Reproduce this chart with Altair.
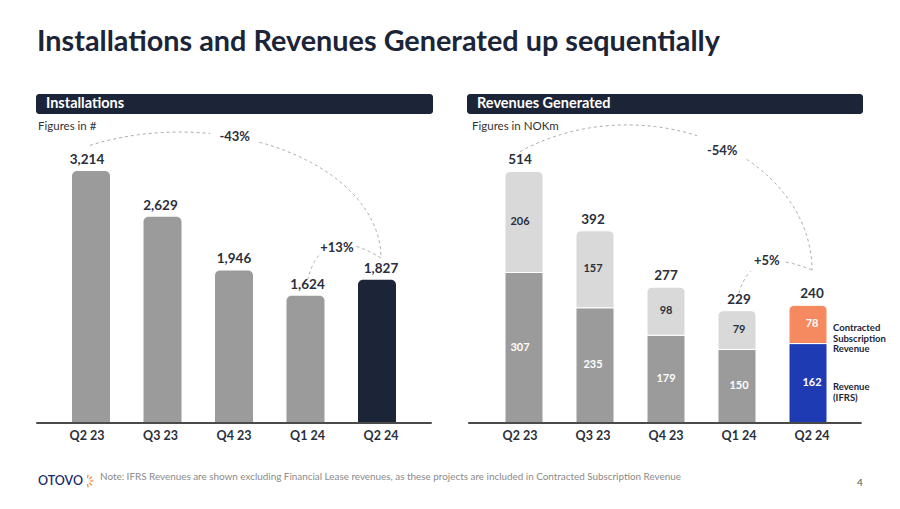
import math
import altair as alt
import numpy as np
import pandas as pd

FONT = "Lato"
DARK = "#1c2438"
TEXT = "#2a2f3b"

quarters = ["Q2 23", "Q3 23", "Q4 23", "Q1 24", "Q2 24"]
installations = [3214, 2629, 1946, 1624, 1827]
revenue_ifrs = [307, 235, 179, 150, 162]
revenue_contracted = [206, 157, 98, 79, 78]
revenue_total = [514, 392, 277, 229, 240]
installation_colors = ["#9b9b9b", "#9b9b9b", "#9b9b9b", "#9b9b9b", DARK]
ifrs_colors = ["#9b9b9b", "#9b9b9b", "#9b9b9b", "#9b9b9b", "#1f3bb4"]
contracted_colors = ["#d9d9d9", "#d9d9d9", "#d9d9d9", "#d9d9d9", "#f58a60"]
contracted_label_colors = [TEXT, TEXT, TEXT, TEXT, "white"]

idx = list(range(len(quarters)))

# scales: index on x, values on y (pixel ranges inside the 884x493 canvas)
XL = alt.Scale(domain=[-0.5, 4.5], range=[42.25, 409.75], nice=False, zero=False)
YL = alt.Scale(domain=[0, 3214], range=[415, 163], nice=False, zero=False)
XR = alt.Scale(domain=[-0.5, 4.5], range=[475.5, 840.5], nice=False, zero=False)
YR = alt.Scale(domain=[0, 514], range=[415, 163], nice=False, zero=False)

one = pd.DataFrame({"a": [0]})

left_df = pd.DataFrame({
    "i": idx, "q": quarters, "v": installations, "base": 0,
    "c": installation_colors, "lab": [f"{v:,}" for v in installations],
})
rb_df = pd.DataFrame({
    "i": idx, "q": quarters, "y0": 0, "y1": revenue_ifrs, "c": ifrs_colors,
    "tc": ["white"] * 5,
    "mid": [v / 2 for v in revenue_ifrs], "lab": [str(v) for v in revenue_ifrs],
})
rt_df = pd.DataFrame({
    "i": idx, "y0": revenue_ifrs,
    "y1": [a + b for a, b in zip(revenue_ifrs, revenue_contracted)],
    "c": contracted_colors, "tc": contracted_label_colors,
    "mid": [a + b / 2 for a, b in zip(revenue_ifrs, revenue_contracted)],
    "lab": [str(v) for v in revenue_contracted],
})
rtot_df = pd.DataFrame({"i": idx, "v": revenue_total, "lab": [str(v) for v in revenue_total]})


def ellipse_arc(cx, cy, a, b, t0, t1, gap):
    rows = []
    seg = 0
    prev_in = False
    for k, t in enumerate(np.linspace(t0, t1, 160)):
        x = cx + a * math.cos(math.radians(t))
        y = cy + b * math.sin(math.radians(t))
        inside = gap[0] <= x <= gap[1]
        if inside:
            if not prev_in:
                seg += 1
            prev_in = True
            continue
        prev_in = False
        rows.append({"x": x, "y": y, "seg": seg, "k": k})
    return rows


def bezier_arc(p0, p1, p2, gap):
    rows = []
    seg = 0
    prev_in = False
    for k, t in enumerate(np.linspace(0, 1, 80)):
        x = (1 - t) ** 2 * p0[0] + 2 * t * (1 - t) * p1[0] + t ** 2 * p2[0]
        y = (1 - t) ** 2 * p0[1] + 2 * t * (1 - t) * p1[1] + t ** 2 * p2[1]
        inside = gap[0] <= x <= gap[1]
        if inside:
            if not prev_in:
                seg += 1
            prev_in = True
            continue
        prev_in = False
        rows.append({"x": x, "y": y, "seg": seg, "k": k})
    return rows


# connectors (index units on x, value units on y)
arc_left = pd.DataFrame(
    [dict(r, arc="big") for r in ellipse_arc(1.265, 2104, 2.735, 1607, 116.6, 0, (1.68, 2.34))]
    + [dict(r, arc="small", seg=r["seg"] + 10) for r in bezier_arc((3.0, 1824), (3.2, 2563), (4.0, 2104), (3.17, 3.66))]
)
arc_right = pd.DataFrame(
    [dict(r, arc="big") for r in ellipse_arc(1.466, 312, 2.534, 296, 125.3, 0, (2.45, 3.1))]
    + [dict(r, arc="small", seg=r["seg"] + 10) for r in bezier_arc((3.0, 265), (3.18, 363), (4.0, 312), (3.16, 3.64))]
)
chg_left = pd.DataFrame({"x": [2.01, 3.40], "y": [3647, 2232], "t": ["-43%", "+13%"]})
chg_right = pd.DataFrame({"x": [2.77, 3.38], "y": [555, 330], "t": ["-54%", "+5%"]})

layers = []

# title
layers.append(alt.Chart(one).mark_text(
    text="Installations and Revenues Generated up sequentially", font=FONT, fontSize=28.8,
    fontWeight="bold", color=DARK, align="left", baseline="alphabetic",
).encode(x=alt.value(29), y=alt.value(43)))

# panel headers
for x0, x1, label in [(28, 425, "Installations"), (459, 855, "Revenues Generated")]:
    layers.append(alt.Chart(one).mark_rect(color=DARK, cornerRadius=3).encode(
        x=alt.value(x0), x2=alt.value(x1), y=alt.value(86), y2=alt.value(106)))
    layers.append(alt.Chart(one).mark_text(
        text=label, font=FONT, fontSize=14.5, fontWeight="bold", color="white",
        align="left", baseline="middle").encode(x=alt.value(x0 + 10), y=alt.value(96)))

for x0, label in [(30, "Figures in #"), (464, "Figures in NOKm")]:
    layers.append(alt.Chart(one).mark_text(
        text=label, font=FONT, fontSize=11.5, color="#333333", align="left",
        baseline="middle").encode(x=alt.value(x0), y=alt.value(119)))

# ---- left panel ----
X_L = alt.X("i:Q", scale=XL, axis=None)
layers.append(alt.Chart(left_df).mark_bar(size=38, cornerRadiusTopLeft=5, cornerRadiusTopRight=5).encode(
    x=X_L, y=alt.Y("v:Q", scale=YL, axis=None), y2="base:Q",
    color=alt.Color("c:N", scale=None)))
layers.append(alt.Chart(left_df).mark_text(
    font=FONT, fontSize=13.5, fontWeight="bold", color=TEXT, baseline="middle", dy=-11).encode(
    x=X_L, y=alt.Y("v:Q", scale=YL, axis=None), text="lab:N"))
layers.append(alt.Chart(left_df).mark_text(
    font=FONT, fontSize=12.5, fontWeight="bold", color=TEXT, baseline="middle", dy=13).encode(
    x=X_L, y=alt.Y("base:Q", scale=YL, axis=None), text="q:N"))
layers.append(alt.Chart(one).mark_rule(color="#4a4a4a", strokeWidth=2).encode(
    x=alt.X("datum_x:Q", scale=XL, axis=None), x2="datum_x2:Q",
    y=alt.Y("datum_y:Q", scale=YL, axis=None)).transform_calculate(
    datum_x="-0.69", datum_x2="4.69", datum_y="0"))
layers.append(alt.Chart(arc_left).mark_line(strokeDash=[3, 3], color="#aaaaaa", strokeWidth=1).encode(
    x=alt.X("x:Q", scale=XL, axis=None), y=alt.Y("y:Q", scale=YL, axis=None),
    detail="seg:N", order="k:Q"))
layers.append(alt.Chart(chg_left).mark_text(
    font=FONT, fontSize=13, fontWeight="bold", color=TEXT, baseline="middle").encode(
    x=alt.X("x:Q", scale=XL, axis=None), y=alt.Y("y:Q", scale=YL, axis=None), text="t:N"))

# ---- right panel ----
X_R = alt.X("i:Q", scale=XR, axis=None)
layers.append(alt.Chart(rb_df).mark_bar(size=38, stroke="white", strokeWidth=1).encode(
    x=X_R, y=alt.Y("y1:Q", scale=YR, axis=None), y2="y0:Q",
    color=alt.Color("c:N", scale=None)))
layers.append(alt.Chart(rt_df).mark_bar(size=38, stroke="white", strokeWidth=1,
                                        cornerRadiusTopLeft=5, cornerRadiusTopRight=5).encode(
    x=X_R, y=alt.Y("y1:Q", scale=YR, axis=None), y2="y0:Q",
    color=alt.Color("c:N", scale=None)))
for df in (rb_df, rt_df):
    layers.append(alt.Chart(df).mark_text(
        font=FONT, fontSize=11, fontWeight="bold", baseline="middle").encode(
        x=X_R, y=alt.Y("mid:Q", scale=YR, axis=None), text="lab:N",
        color=alt.Color("tc:N", scale=None)))
layers.append(alt.Chart(rtot_df).mark_text(
    font=FONT, fontSize=13.5, fontWeight="bold", color=TEXT, baseline="middle", dy=-11).encode(
    x=X_R, y=alt.Y("v:Q", scale=YR, axis=None), text="lab:N"))
layers.append(alt.Chart(rb_df).mark_text(
    font=FONT, fontSize=12.5, fontWeight="bold", color=TEXT, baseline="middle", dy=13).encode(
    x=X_R, y=alt.Y("y0:Q", scale=YR, axis=None), text="q:N"))
layers.append(alt.Chart(one).mark_rule(color="#4a4a4a", strokeWidth=2).encode(
    x=alt.X("datum_x:Q", scale=XR, axis=None), x2="datum_x2:Q",
    y=alt.Y("datum_y:Q", scale=YR, axis=None)).transform_calculate(
    datum_x="-0.71", datum_x2="4.68", datum_y="0"))
layers.append(alt.Chart(arc_right).mark_line(strokeDash=[3, 3], color="#aaaaaa", strokeWidth=1).encode(
    x=alt.X("x:Q", scale=XR, axis=None), y=alt.Y("y:Q", scale=YR, axis=None),
    detail="seg:N", order="k:Q"))
layers.append(alt.Chart(chg_right).mark_text(
    font=FONT, fontSize=13, fontWeight="bold", color=TEXT, baseline="middle").encode(
    x=alt.X("x:Q", scale=XR, axis=None), y=alt.Y("y:Q", scale=YR, axis=None), text="t:N"))

# legend-like labels beside the last stacked bar
legend_df = pd.DataFrame({
    "i": [4, 4],
    "mid": [rt_df["mid"].iloc[4], rb_df["mid"].iloc[4]],
    "t": ["Contracted\nSubscription\nRevenue", "Revenue\n(IFRS)"],
})
layers.append(alt.Chart(legend_df).mark_text(
    font=FONT, fontSize=9.5, fontWeight="bold", color=DARK, align="left", baseline="middle",
    lineBreak="\n", lineHeight=10.5, dx=21, dy=4).encode(
    x=X_R, y=alt.Y("mid:Q", scale=YR, axis=None), text="t:N"))

# footer
layers.append(alt.Chart(one).mark_text(
    text="OTOVO", font=FONT, fontSize=12.5, fontWeight=600, color="#1b2a6b", align="left",
    baseline="middle").encode(x=alt.value(30), y=alt.value(473)))
ray_rows = []
for n, ang in enumerate([-80, -40, 0, 40, 80]):
    r0, r1 = 3.0, 6.5
    cx, cy = 79, 473
    ray_rows.append({
        "x": cx + r0 * math.cos(math.radians(ang)), "y": cy + r0 * math.sin(math.radians(ang)),
        "x2": cx + r1 * math.cos(math.radians(ang)), "y2": cy + r1 * math.sin(math.radians(ang)),
    })
layers.append(alt.Chart(pd.DataFrame(ray_rows)).mark_rule(color="#f58a3c", strokeWidth=1.2).encode(
    x=alt.X("x:Q", scale=alt.Scale(domain=[0, 884], range=[0, 884]), axis=None),
    x2="x2:Q",
    y=alt.Y("y:Q", scale=alt.Scale(domain=[0, 493], range=[0, 493]), axis=None),
    y2="y2:Q"))
layers.append(alt.Chart(one).mark_text(
    text="Note: IFRS Revenues are shown excluding Financial Lease revenues, as these projects are included in Contracted Subscription Revenue",
    font=FONT, fontSize=9.9, color="#8a8a8a", align="left", baseline="middle").encode(
    x=alt.value(92), y=alt.value(469)))
layers.append(alt.Chart(one).mark_text(
    text="4", font=FONT, fontSize=10, color="#555555", align="center", baseline="middle").encode(
    x=alt.value(852), y=alt.value(475)))

chart = alt.layer(*layers).properties(
    width=884, height=493, padding=0, background="white",
    autosize=alt.AutoSizeParams(type="none"),
).resolve_scale(x="independent", y="independent").configure_view(strokeWidth=0)

chart.save("out.html", embed_options={"renderer": "svg", "actions": False})
